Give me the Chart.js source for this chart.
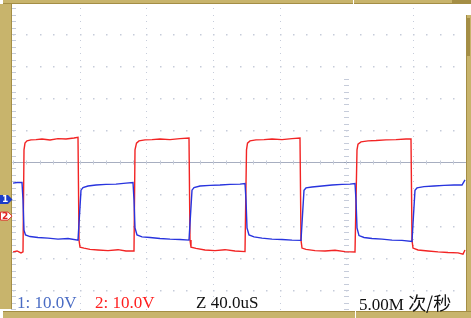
<!DOCTYPE html>
<html lang="zh">
<head>
    <meta charset="UTF-8">
    <title>Scope capture</title>
    <script src="https://cdn.jsdelivr.net/npm/chart.js"></script>
    <style>
        body {
            margin: 0;
            background: #ffffff;
        }
        #screen {
            position: relative;
            width: 471px;
            height: 318px;
            overflow: hidden;
        }
        #scope {
            position: absolute;
            left: 0;
            top: 0;
        }
        .lbl {
            position: absolute;
            top: 294px;
            font-family: "Liberation Serif", "Times New Roman", serif;
            font-size: 17px;
            line-height: 17px;
            white-space: nowrap;
        }
        .cjk {
            font-family: "Noto Sans CJK SC", sans-serif;
            font-size: 18px;
        }
        .mark {
            position: absolute;
            font-family: "DejaVu Sans", sans-serif;
            font-weight: bold;
            font-size: 9px;
            line-height: 9px;
        }
    </style>
</head>
<body>
<div id="screen">
    <canvas id="scope" width="471" height="318"></canvas>
    <span class="lbl" style="left:17px; color:#4a6cc4;">1: 10.0V</span>
    <span class="lbl" style="left:95px; color:#ff1e1e;">2: 10.0V</span>
    <span class="lbl" style="left:196px; color:#111111;">Z 40.0uS</span>
    <span class="lbl" style="left:359px; color:#111111;">5.00M <span class="cjk">次/秒</span></span>
    <span class="mark" style="left:2px; top:195px; color:#ffffff;">1</span>
    <span class="mark" style="left:2px; top:212px; color:#e02020;">2</span>
</div>
<script>
    // time base 40 us/div, both channels 10 V/div (values relative to screen centre)
    const xGridTicks = [0, 40, 80, 120, 160, 200, 240];
    const yGridTicks = [-40, -30, -20, -10, 0, 10, 20, 30, 40];

    // channel 1 (blue), time in us, volts
    const ch1Time = [0, 2.4, 5.4, 6.0, 6.6, 7.5, 10.2, 15, 21, 27, 33, 39,
        39.9, 40.8, 42, 45, 49.8, 55.8, 61.8, 67.8, 72,
        72.6, 73.2, 74.4, 77.4, 82.2, 88.2, 94.2, 100.2, 105.6,
        106.5, 107.4, 108.6, 112.2, 118.2, 124.2, 130.2, 136.2, 139.2,
        139.8, 140.4, 141.6, 144.6, 149.4, 155.4, 161.4, 167.4, 172.8,
        173.7, 174.6, 175.8, 179.4, 185.4, 191.4, 197.4, 202.2, 205.2,
        205.8, 206.4, 207.6, 210.6, 215.4, 221.4, 227.4, 233.4, 239.4,
        240.3, 241.2, 242.4, 246.6, 252.6, 258.6, 264.6, 269.4, 271.2];
    const ch1Volts = [-6.6, -6.4, -6.4, -11.9, -21.3, -22.8, -23.3, -23.6, -23.8, -24.1, -23.9, -24.4,
        -16.6, -8.8, -8.0, -7.5, -7.2, -7.0, -6.9, -6.6, -6.4,
        -11.9, -20.6, -22.8, -23.4, -23.6, -23.9, -24.1, -24.2, -24.4,
        -16.6, -8.8, -8.0, -7.5, -7.3, -7.2, -7.0, -6.9, -6.7,
        -11.9, -20.6, -22.8, -23.4, -23.8, -24.1, -24.2, -24.4, -24.5,
        -16.6, -8.8, -8.1, -7.8, -7.5, -7.2, -7.0, -6.9, -6.7,
        -11.9, -20.6, -23.0, -23.6, -23.9, -24.1, -24.4, -24.5, -24.8,
        -16.6, -8.8, -8.1, -7.7, -7.5, -7.3, -7.2, -7.2, -5.6];

    // channel 2 (red)
    const ch2Time = [0, 2.4, 4.8, 6.0, 6.6, 7.2, 8.4, 10.8, 13.8, 17.4, 22.2, 27, 31.8, 36.6, 39,
        39.6, 40.2, 42.6, 46.2, 51, 57, 63, 67.8, 72.6,
        73.2, 74.1, 75.6, 79.2, 83.4, 88.2, 94.2, 100.2, 105.6,
        106.2, 106.8, 109.8, 115.2, 121.2, 127.2, 133.2, 139.2,
        140.1, 140.7, 142.2, 145.8, 150.6, 155.4, 161.4, 167.4, 172.2,
        172.8, 173.4, 175.8, 181.2, 187.2, 193.2, 199.2, 205.2,
        206.4, 207, 208.8, 213, 217.8, 223.8, 229.8, 235.8, 238.8,
        239.4, 240, 243, 249, 255, 261, 267, 270, 271.2];
    const ch2Volts = [-28.1, -27.8, -28.4, -28.1, 3.8, 5.9, 6.6, 6.9, 7.0, 7.2, 6.9, 7.3, 7.2, 7.5, 7.7,
        -24.4, -26.6, -26.9, -27.3, -27.5, -27.7, -27.4, -27.8, -27.8,
        3.8, 5.9, 6.6, 6.9, 7.0, 7.2, 7.0, 7.3, 7.5,
        -24.4, -26.6, -27.0, -27.5, -27.7, -27.4, -27.8, -28.0,
        3.8, 5.9, 6.6, 6.9, 7.0, 7.2, 7.0, 7.3, 7.5,
        -24.4, -26.9, -27.3, -27.7, -27.8, -27.6, -28.0, -28.1,
        3.8, 5.6, 6.3, 6.6, 6.7, 6.9, 7.0, 7.2, 7.2,
        -24.4, -26.9, -27.5, -27.8, -28.1, -28.3, -28.4, -28.8, -27.5];

    const ch1Marker = -11.7;   // ground marker positions on the left edge
    const ch2Marker = -16.9;

    function toPoints(ts, vs) {
        return ts.map((t, i) => ({ x: t, y: vs[i] }));
    }

    const tan = '#c8b46c';
    const tanDark = '#a48e45';
    const dotColor = '#c6ccda';

    const scopeGrid = {
        id: 'scopeGrid',
        beforeDatasetsDraw(chart) {
            const { ctx, chartArea: a, scales: { x, y } } = chart;
            ctx.save();
            ctx.fillStyle = dotColor;
            const minorX = (x.getPixelForValue(40) - x.getPixelForValue(0)) / 5;
            const minorY = (y.getPixelForValue(0) - y.getPixelForValue(10)) / 5;
            // dotted rows
            yGridTicks.forEach(v => {
                const py = Math.round(y.getPixelForValue(v));
                if (v === 0) return;
                for (let px = x.getPixelForValue(0); px < a.right; px += minorX) {
                    ctx.fillRect(Math.round(px), py, 1.5, 1.5);
                }
            });
            // dotted columns
            xGridTicks.forEach(t => {
                const px = Math.round(x.getPixelForValue(t));
                const y0 = y.getPixelForValue(0);
                for (let k = -30; k <= 30; k++) {
                    const py = y0 + k * minorY;
                    if (py < a.top || py > a.bottom) continue;
                    if (t === 200 && py < 78) continue;
                    ctx.fillRect(px, Math.round(py), 1, 1);
                    if (t === 200 || t === 0) {
                        ctx.fillRect(px - 2, Math.round(py), 5, 1);
                    }
                }
            });
            // centre horizontal axis
            const cy = Math.round(y.getPixelForValue(0)) + 0.5;
            ctx.strokeStyle = 'rgba(130,140,165,0.7)';
            ctx.lineWidth = 1;
            ctx.beginPath();
            ctx.moveTo(a.left, cy);
            ctx.lineTo(a.right, cy);
            ctx.stroke();
            for (let px = x.getPixelForValue(0); px < a.right; px += minorX) {
                ctx.fillRect(Math.round(px), cy - 2, 1, 4);
            }
            ctx.restore();
        },
        afterDraw(chart) {
            const { ctx, width, height, scales: { y } } = chart;
            ctx.save();
            // bezel
            ctx.fillStyle = tan;
            ctx.fillRect(3, 0, width - 3, 4);
            ctx.fillRect(0, 4, 12, 305);
            ctx.fillRect(3, 311, width - 3, height - 311);
            ctx.fillRect(466, 15, 5, 296);
            ctx.fillStyle = tanDark;
            ctx.fillRect(3, 3, width - 3, 1);
            ctx.fillRect(11, 4, 1, 305);
            ctx.fillRect(3, 311, width - 3, 1);
            ctx.fillRect(466, 15, 1, 296);
            ctx.fillRect(452, 0, 19, 3);
            ctx.fillRect(467, 18, 3, 38);
            ctx.fillStyle = '#ffffff';
            ctx.fillRect(353, 0, 1, 4);
            ctx.fillRect(355, 311, 1, 7);
            // channel markers
            const m1 = y.getPixelForValue(ch1Marker);
            ctx.fillStyle = '#1c3cc8';
            ctx.beginPath();
            ctx.moveTo(0, m1 - 4.5);
            ctx.lineTo(8, m1 - 4.5);
            ctx.lineTo(12.5, m1);
            ctx.lineTo(8, m1 + 4.5);
            ctx.lineTo(0, m1 + 4.5);
            ctx.closePath();
            ctx.fill();
            const m2 = y.getPixelForValue(ch2Marker);
            ctx.fillStyle = '#ffffff';
            ctx.strokeStyle = '#e03030';
            ctx.lineWidth = 1;
            ctx.beginPath();
            ctx.moveTo(0.5, m2 - 4);
            ctx.lineTo(8, m2 - 4);
            ctx.lineTo(12, m2);
            ctx.lineTo(8, m2 + 4);
            ctx.lineTo(0.5, m2 + 4);
            ctx.closePath();
            ctx.fill();
            ctx.stroke();
            ctx.restore();
        }
    };

    new Chart(document.getElementById('scope').getContext('2d'), {
        type: 'line',
        data: {
            datasets: [
                {
                    label: 'CH1',
                    data: toPoints(ch1Time, ch1Volts),
                    borderColor: 'rgb(40,52,222)',
                    borderWidth: 1.4,
                    pointRadius: 0,
                    tension: 0,
                },
                {
                    label: 'CH2',
                    data: toPoints(ch2Time, ch2Volts),
                    borderColor: 'rgb(242,36,36)',
                    borderWidth: 1.4,
                    pointRadius: 0,
                    tension: 0,
                },
            ],
        },
        options: {
            responsive: false,
            animation: false,
            layout: { padding: { left: 13, right: 5, top: 4, bottom: 6 } },
            plugins: {
                legend: { display: false },
                tooltip: { enabled: false },
            },
            scales: {
                x: { type: 'linear', min: 0, max: 271.8, display: false },
                y: { min: -46.875, max: 49.375, display: false },
            },
        },
        plugins: [scopeGrid],
    });
</script>
</body>
</html>
